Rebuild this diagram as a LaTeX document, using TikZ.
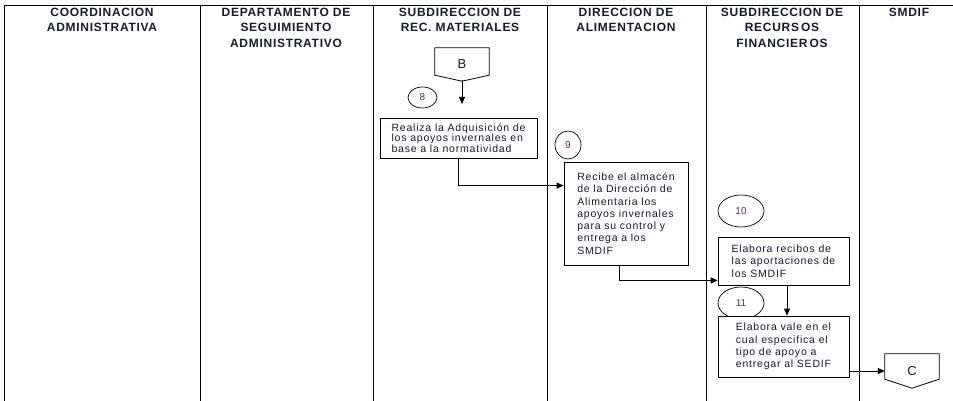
\documentclass[tikz,border=0pt]{standalone}
\usepackage{fontspec}
\setmainfont{Liberation Sans}
\newfontfamily\headfont[LetterSpace=6]{Liberation Sans}
\newfontfamily\boxfont[LetterSpace=7.5]{Liberation Sans}
\usepackage{xcolor}
\usepackage{tikz}
\usetikzlibrary{calc,arrows.meta,shapes.geometric}
\definecolor{txtcol}{RGB}{25,25,50}
\definecolor{numcol}{RGB}{95,35,115}
\newcommand\offpageshape[2]{
  \draw[line width=0.8pt] (#1.north west) -- (#1.north east) -- ($ (#1.south east) + (0,-#2) $) -- (#1.south) -- ($ (#1.south west) + (0,-#2) $) -- cycle;
}

\begin{document}
\begin{tikzpicture}[x=1pt,y=-1pt,
    lane/.style={line width=1pt,black},
    hdr/.style={anchor=north,inner sep=0pt,align=center,text=txtcol,font=\headfont\bfseries\fontsize{12}{15.5}\selectfont},
    proc/.style={draw,fill=white,line width=0.8pt,inner sep=0pt,align=left,text=txtcol,font=\boxfont\fontsize{10.5}{12.3}\selectfont},
    num/.style={draw,ellipse,line width=0.7pt,inner sep=0pt,text=numcol,font=\fontsize{10}{11}\selectfont},
    offpg/.style={inner sep=0pt,minimum width=54,text=txtcol,font=\fontsize{13}{14}\selectfont},
    flow/.style={line width=0.8pt,-{Triangle[length=7pt,width=6pt]}}]
      \useasboundingbox (0,0) rectangle (953,401);

      % lanes
      \draw[lane] (4,6) -- (953,6);
      \foreach \x in {4,200,373,547,706,859}
        \draw[lane] (\x,6) -- (\x,401);

      \node[hdr] (h1) at (102,7.5) {COORDINACION\\ADMINISTRATIVA};
      \node[hdr] (h2) at (286,7.5) {DEPARTAMENTO DE\\SEGUIMIENTO\\ADMINISTRATIVO};
      \node[hdr] (h3) at (460,7.5) {SUBDIRECCION DE\\REC. MATERIALES};
      \node[hdr] (h4) at (626,7.5) {DIRECCION DE\\ALIMENTACION};
      \node[hdr] (h5) at (782,7.5) {SUBDIRECCION DE\\RECURS\hspace{2pt}OS\\FINANCIER\hspace{2pt}OS};
      \node[hdr] (h6) at (909,7.5) {SMDIF};

      % connectors off page
      \node[offpg,minimum height=33] (B) at (462,64.5) {B};
      \offpageshape{B}{6}
      \node[offpg,minimum height=34] (C) at (912,371) {C};
      \offpageshape{C}{9}

      % step numbers
      \node[num,minimum width=29,minimum height=21] (n8) at (422.5,97.5) {8};
      \node[num,minimum width=26,minimum height=28] (n9) at (568,145) {9};
      \node[num,minimum width=46,minimum height=32] (n10) at (741,211) {10};
      \node[num,minimum width=46,minimum height=32] (n11) at (741,303) {11};

      % steps
      \node[proc,minimum width=157,minimum height=40,font=\boxfont\fontsize{10.5}{10.5}\selectfont] (box8) at (458.5,138)
        {Realiza la Adquisición de\\los apoyos invernales en\\base a la normatividad};
      \node[proc,minimum width=124,minimum height=103] (box9) at (626,213.5)
        {Recibe el almacén\\de la Dirección de\\Alimentaria los\\apoyos invernales\\para su control y\\entrega a los\\SMDIF};
      \node[proc,minimum width=131,minimum height=48] (box10) at (783.5,261)
        {Elabora recibos de\\las aportaciones de\\los SMDIF};
      \node[proc,minimum width=131,minimum height=61] (box11) at (783.5,346.5)
        {Elabora vale en el\\cual especifica el\\tipo de apoyo a\\entregar al SEDIF};

      \coordinate (b8) at (462,104);
      \draw[flow] ($ (B.south) + (0,-1) $) -- (b8);
      \draw[flow] (box8.south) |- ($ (box9.north west) + (0,24) $);
      \draw[flow] ([xshift=-7pt]box9.south) |- ($ (box10.south west) + (0,-5) $);
      \draw[flow] ([xshift=3.5pt]box10.south) -- ([xshift=3.5pt]box11.north);
      \draw[flow] (box11.east |- C.west) -- (C.west);

    \end{tikzpicture}
\end{document}
